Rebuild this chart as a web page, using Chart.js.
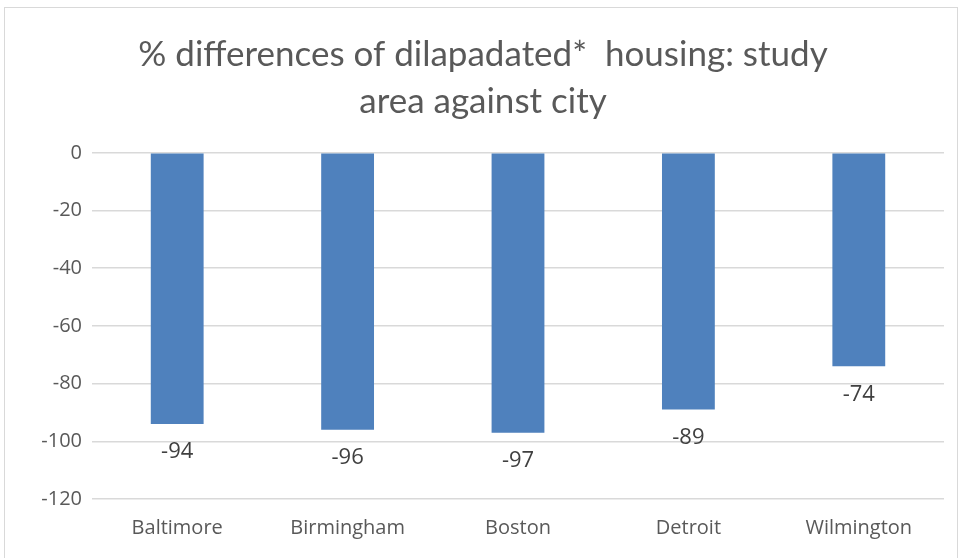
<!DOCTYPE html>
<html lang="en">
<head>
<meta charset="UTF-8">
<title>% differences of dilapadated housing</title>
<script src="https://cdn.jsdelivr.net/npm/chart.js"></script>
<style>
  html, body { margin: 0; padding: 0; background: #fff; }
  #frame { position: absolute; left: 4px; top: 7px; width: 952px; height: 560px; border: 1px solid #d9d9d9; }
  #wrap { position: absolute; left: 0; top: 0; width: 961px; height: 558px; }
</style>
</head>
<body>
<div id="frame"></div>
<div id="wrap"><canvas id="chart"></canvas></div>
<script>
// data
const cities = ['Baltimore', 'Birmingham', 'Boston', 'Detroit', 'Wilmington'];
const pctDiff = [-94, -96, -97, -89, -74];
const yMin = -120, yMax = 0, yStep = 20;

// draw value labels just under the end of each bar
const valueLabels = {
    id: 'valueLabels',
    afterDatasetsDraw(chart) {
        const ctx = chart.ctx;
        const meta = chart.getDatasetMeta(0);
        ctx.save();
        ctx.font = '22px "Open Sans"';
        ctx.fillStyle = '#404040';
        ctx.textAlign = 'center';
        ctx.textBaseline = 'middle';
        meta.data.forEach((bar, i) => {
            ctx.fillText(String(pctDiff[i]), bar.x, bar.y + 28);
        });
        ctx.restore();
    }
};

new Chart(document.getElementById('chart'), {
    type: 'bar',
    data: {
        labels: cities,
        datasets: [{
            data: pctDiff,
            backgroundColor: '#4f81bd',
            borderWidth: 0,
            categoryPercentage: 1,
            barPercentage: 0.31
        }]
    },
    options: {
        responsive: true,
        maintainAspectRatio: false,
        animation: false,
        layout: { padding: { left: 22, right: 17, top: 0, bottom: 0 } },
        plugins: {
            legend: { display: false },
            tooltip: { enabled: false },
            title: {
                display: true,
                text: ['% differences of dilapadated*  housing: study', 'area against city'],
                color: '#595959',
                font: { family: 'Lato', size: 35, weight: 'normal', lineHeight: 1.34 },
                padding: { top: 31, bottom: 28 }
            }
        },
        scales: {
            x: {
                grid: { display: false, drawTicks: false },
                border: { display: false },
                ticks: { color: '#595959', font: { family: 'Open Sans', size: 20 }, padding: 17 },
                afterFit(scale) { scale.height = 59; }
            },
            y: {
                min: yMin,
                max: yMax,
                grid: { color: '#d9d9d9', lineWidth: 1.5, drawTicks: false },
                border: { display: false },
                ticks: { stepSize: yStep, color: '#595959', font: { family: 'Open Sans', size: 20 }, padding: 10 },
                afterFit(scale) { scale.width = 70; }
            }
        }
    },
    plugins: [valueLabels]
});
</script>
</body>
</html>
